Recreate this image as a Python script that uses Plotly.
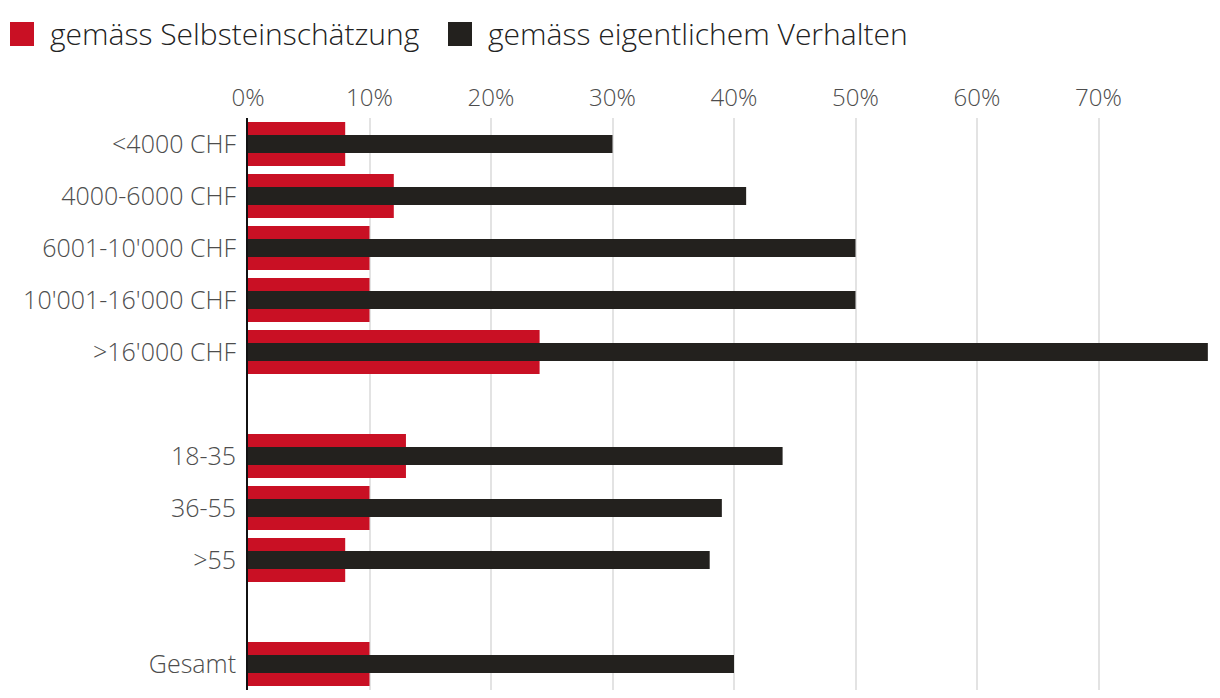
import plotly.graph_objects as go

categories = ["<4000 CHF", "4000-6000 CHF", "6001-10'000 CHF", "10'001-16'000 CHF", ">16'000 CHF",
              None, "18-35", "36-55", ">55", None, "Gesamt"]
selbst = [8, 12, 10, 10, 24, None, 13, 10, 8, None, 10]
verhalten = [30, 41, 50, 50, 79, None, 44, 39, 38, None, 40]
x_ticks = [0, 10, 20, 30, 40, 50, 60, 70]
x_tick_labels = [f"{v}%" for v in x_ticks]
series_names = ["gemäss Selbsteinschätzung", "gemäss eigentlichem Verhalten"]
RED = "#c91024"
BLACK = "#23211e"
FONT = "Open Sans"

pos = list(range(len(categories)))
tickvals = [p for p, c in zip(pos, categories) if c is not None]
ticktext = [c for c in categories if c is not None]

fig = go.Figure()
fig.add_trace(go.Bar(y=pos, x=selbst, orientation="h", width=0.85,
                     marker=dict(color=RED, line=dict(width=0)), name=series_names[0], showlegend=False))
fig.add_trace(go.Bar(y=pos, x=verhalten, orientation="h", width=0.35,
                     marker=dict(color=BLACK, line=dict(width=0)), name=series_names[1], showlegend=False))

W, H = 1220, 698
ml, mr, mt, mb = 248, 0, 118, 8
pw, ph = W - ml - mr, H - mt - mb

def px_x(x):
    return (x - ml) / pw

def px_y(y):
    return 1 - (y - mt) / ph

# manual legend
legend_items = [(10, RED, series_names[0]), (448, BLACK, series_names[1])]
for x0, col, name in legend_items:
    fig.add_shape(type="rect", xref="paper", yref="paper",
                  x0=px_x(x0), x1=px_x(x0 + 24), y0=px_y(46), y1=px_y(22),
                  fillcolor=col, line=dict(width=0))
    fig.add_annotation(xref="paper", yref="paper", x=px_x(x0 + 38), y=px_y(34),
                       text=name, showarrow=False, xanchor="left", yanchor="middle",
                       font=dict(family=FONT, size=30, color="#222222", weight=300))

fig.update_layout(
    width=W, height=H,
    margin=dict(l=ml, r=mr, t=mt, b=mb),
    barmode="overlay",
    plot_bgcolor="white", paper_bgcolor="white",
    font=dict(family=FONT, color="#4d4d4d"),
    showlegend=False,
    xaxis=dict(side="top", range=[0, 80], tickvals=x_ticks, ticktext=x_tick_labels,
               showgrid=True, gridcolor="#e3e3e3", gridwidth=2,
               zeroline=False, showline=False,
               ticks="outside", ticklen=1, tickcolor="rgba(0,0,0,0)",
               tickfont=dict(family=FONT, size=24, color="#4d4d4d", weight=300)),
    yaxis=dict(range=[len(categories) - 0.5, -0.5], tickvals=tickvals, ticktext=ticktext,
               showgrid=False, zeroline=False,
               showline=True, linecolor="#111111", linewidth=2,
               ticks="outside", ticklen=5, tickcolor="rgba(0,0,0,0)",
               tickfont=dict(family=FONT, size=25, color="#4d4d4d", weight=300)),
)

fig.write_html("out.html", config={"displayModeBar": False},
               post_script="document.body.style.margin='0';")
